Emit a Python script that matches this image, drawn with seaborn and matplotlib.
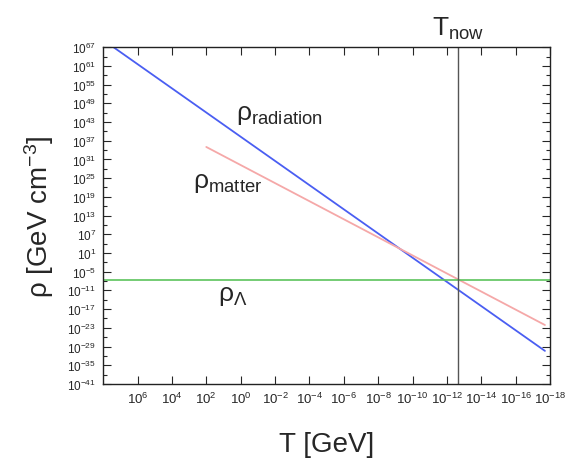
import numpy as np
import pandas as pd
import matplotlib
matplotlib.use("Agg")
import matplotlib.pyplot as plt
import seaborn as sns

# ── Data ──────────────────────────────────────────────
T_RAD   = [10**7.4, 10**-17.7]      # GeV
RHO_RAD = [10**67.0, 10**-30.4]     # GeV cm^-3
T_MAT   = [10**2.0, 10**-17.7]
RHO_MAT = [10**35.0, 10**-22.1]
RHO_LAMBDA = 10**-7.7
T_NOW   = 2.3e-13

X_EXP = list(range(6, -19, -2))
Y_EXP = list(range(-41, 68, 6))

# ── Style ─────────────────────────────────────────────
sns.set_style("ticks")
plt.rcParams['font.family'] = ['Liberation Sans', 'DejaVu Sans']
plt.rcParams['mathtext.fontset'] = 'custom'
plt.rcParams['mathtext.rm'] = 'Liberation Sans'
plt.rcParams['mathtext.it'] = 'Liberation Sans'
plt.rcParams['mathtext.default'] = 'regular'

fig = plt.figure(figsize=(5.73, 4.77), dpi=100)
ax = fig.add_axes([0.18, 0.193, 0.78, 0.706])

rad = pd.DataFrame({"T": T_RAD, "rho": RHO_RAD})
mat = pd.DataFrame({"T": T_MAT, "rho": RHO_MAT})
sns.lineplot(data=rad, x="T", y="rho", color="#4a5ef2", lw=1.3, ax=ax)
sns.lineplot(data=mat, x="T", y="rho", color="#f5a8a8", lw=1.3, ax=ax)
ax.axhline(RHO_LAMBDA, color="#5cc45c", lw=1.2)
ax.axvline(T_NOW, color="#555555", lw=1.0)

ax.set_xscale("log")
ax.set_yscale("log")
ax.set_xlim(1e8, 1e-18)
ax.set_ylim(1e-41, 1e67)

ax.set_xticks([10.0**e for e in X_EXP])
ax.set_xticklabels([f"$10^{{{e}}}$" for e in X_EXP], fontsize=9.5)
ax.set_yticks([10.0**e for e in Y_EXP])
ax.set_yticklabels([f"$10^{{{e}}}$" for e in Y_EXP], fontsize=8.5)
ax.set_yticks([10.0**e for e in range(-38, 67, 6)], minor=True)
ax.yaxis.set_minor_formatter(matplotlib.ticker.NullFormatter())
ax.xaxis.set_minor_locator(matplotlib.ticker.NullLocator())
ax.tick_params(which="both", direction="in", top=True, right=True, width=0.8)
ax.tick_params(which="major", length=6, pad=5)
ax.tick_params(which="minor", length=3)
for s in ax.spines.values():
    s.set_linewidth(1.0)
    s.set_color("#222222")

ax.set_xlabel("T [GeV]", fontsize=20, labelpad=18)
ax.set_ylabel("ρ [GeV cm$^{-3}$]", fontsize=20, labelpad=8)

ax.text(10**0.3, 10**44, "ρ$_{radiation}$", fontsize=19)
ax.text(10**2.8, 10**22, "ρ$_{matter}$", fontsize=19)
ax.text(10**1.3, 10**-14, "ρ$_{Λ}$", fontsize=19)
ax.text(T_NOW, 10**69, "T$_{now}$", fontsize=19, ha="center", va="bottom")

plt.savefig("out.png", dpi=100)
